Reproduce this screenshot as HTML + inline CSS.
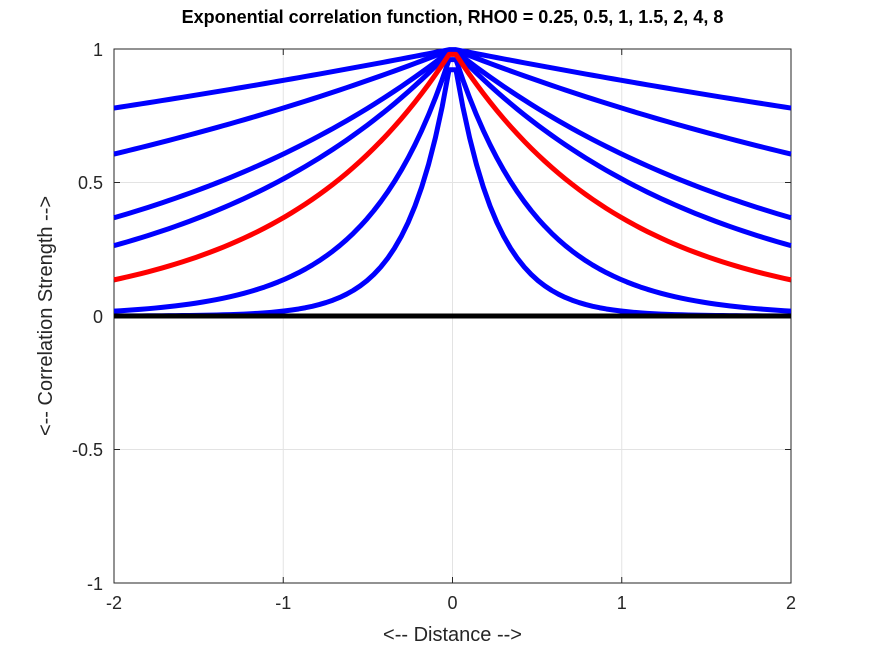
<!DOCTYPE html>
<html><head><meta charset="utf-8"><style>
body{margin:0;background:#fff;}
svg{display:block;font-family:"Liberation Sans",sans-serif;}
</style></head><body>
<svg id="s" width="873" height="655" viewBox="0 0 873 655">
<rect width="873" height="655" fill="#fff"/>
<g stroke="#e3e3e3" stroke-width="1">
<line x1="283.25" y1="49" x2="283.25" y2="583"/>
<line x1="452.5" y1="49" x2="452.5" y2="583"/>
<line x1="621.75" y1="49" x2="621.75" y2="583"/>
<line x1="114" y1="182.5" x2="791" y2="182.5"/>
<line x1="114" y1="316" x2="791" y2="316"/>
<line x1="114" y1="449.5" x2="791" y2="449.5"/>
</g>
<rect x="114" y="49" width="677" height="534" fill="none" stroke="#262626" stroke-width="1"/>
<g stroke="#262626" stroke-width="1">
<line x1="283.25" y1="583" x2="283.25" y2="577"/><line x1="452.5" y1="583" x2="452.5" y2="577"/><line x1="621.75" y1="583" x2="621.75" y2="577"/>
<line x1="283.25" y1="49" x2="283.25" y2="55"/><line x1="452.5" y1="49" x2="452.5" y2="55"/><line x1="621.75" y1="49" x2="621.75" y2="55"/>
<line x1="114" y1="182.5" x2="120" y2="182.5"/><line x1="114" y1="316" x2="120" y2="316"/><line x1="114" y1="449.5" x2="120" y2="449.5"/>
<line x1="791" y1="182.5" x2="785" y2="182.5"/><line x1="791" y1="316" x2="785" y2="316"/><line x1="791" y1="449.5" x2="785" y2="449.5"/>
</g>
<g id="curves" fill="none" stroke-width="5" stroke-linejoin="round"></g>
<line x1="114" y1="316" x2="791" y2="316" stroke="#000" stroke-width="5"/>
<g font-size="18" fill="#262626" text-anchor="middle">
<text x="114" y="609">-2</text><text x="283.25" y="609">-1</text><text x="452.5" y="609">0</text><text x="621.75" y="609">1</text><text x="791" y="609">2</text>
</g>
<g font-size="18" fill="#262626" text-anchor="end">
<text x="103" y="56">1</text><text x="103" y="189">0.5</text><text x="103" y="323">0</text><text x="103" y="456">-0.5</text><text x="103" y="590">-1</text>
</g>
<text x="452.5" y="641" font-size="20" fill="#262626" text-anchor="middle">&lt;-- Distance --&gt;</text>
<text transform="translate(52,316) rotate(-90)" font-size="20" fill="#262626" text-anchor="middle">&lt;-- Correlation Strength --&gt;</text>
<text x="452.5" y="23" font-size="18" font-weight="bold" fill="#000" text-anchor="middle">Exponential correlation function, RHO0 = 0.25, 0.5, 1, 1.5, 2, 4, 8</text>
</svg>
<script>
var g=document.getElementById('curves');
[8,4,2,1.5,0.5,0.25,1].forEach(function(r){
 var d='',n=100;
 for(var i=0;i<n;i++){var x=-2+4*i/(n-1);var y=Math.exp(-Math.abs(x)/r);
  d+=(i?'L':'M')+(114+(x+2)*169.25).toFixed(2)+' '+(316-y*267).toFixed(2);}
 var p=document.createElementNS('http://www.w3.org/2000/svg','path');
 p.setAttribute('d',d);p.setAttribute('stroke',r==1?'#ff0000':'#0000ff');g.appendChild(p);
});
</script>
</body></html>
